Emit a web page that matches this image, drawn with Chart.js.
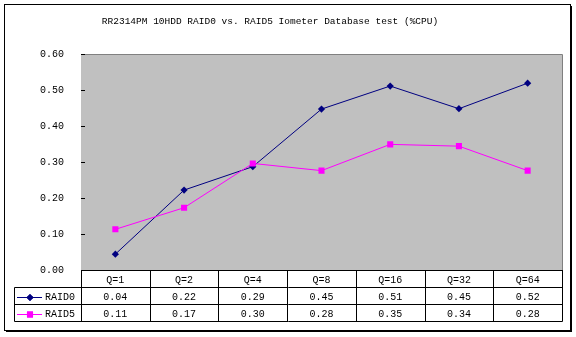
<!DOCTYPE html>
<html><head><meta charset="utf-8">
<script src="https://cdn.jsdelivr.net/npm/chart.js@4/dist/chart.umd.min.js"></script>
<style>html,body{margin:0;padding:0;background:#fff;}#wrap{width:576px;height:337px;position:relative}</style>
</head><body><div id="wrap"><canvas id="c" width="576" height="337"></canvas></div>
<script>
const chartTitle = 'RR2314PM 10HDD RAID0 vs. RAID5 Iometer Database test (%CPU)';
const categories = ['Q=1', 'Q=2', 'Q=4', 'Q=8', 'Q=16', 'Q=32', 'Q=64'];
const seriesNames = ['RAID0', 'RAID5'];
const raid0 = [0.044, 0.222, 0.287, 0.447, 0.511, 0.448, 0.519];
const raid5 = [0.113, 0.173, 0.296, 0.276, 0.349, 0.344, 0.276];
const yMin = 0, yMax = 0.6, yStep = 0.1;

const FONT = '"Liberation Mono", "DejaVu Sans Mono", monospace';
const colors = ['#000080', '#FF00FF'];
const styles = ['rectRot', 'rect'];
const radii = [3.6, 4.3];

const decor = {
  id: 'decor',
  beforeDatasetsDraw(chart) {
    const {ctx, chartArea: a} = chart;
    ctx.save();
    ctx.fillStyle = '#C0C0C0';
    ctx.fillRect(a.left, a.top, a.right - a.left, a.bottom - a.top);
    ctx.strokeStyle = '#808080';
    ctx.lineWidth = 1;
    ctx.beginPath();
    ctx.moveTo(a.left, a.top + 0.5); ctx.lineTo(a.right + 0.5, a.top + 0.5);
    ctx.lineTo(a.right + 0.5, a.bottom);
    ctx.stroke();
    const ys = chart.scales.y;
    ctx.strokeStyle = '#000';
    ctx.beginPath();
    ys.ticks.forEach(t => {
      const py = Math.round(ys.getPixelForValue(t.value)) + 0.5;
      ctx.moveTo(a.left, py); ctx.lineTo(a.left + 4, py);
    });
    ctx.stroke();
    ctx.restore();
  },
  afterDraw(chart) {
    const {ctx, chartArea: a} = chart;
    const xs = chart.scales.x;
    ctx.save();
    ctx.fillStyle = '#000';
    ctx.font = '9.5px ' + FONT;
    ctx.textAlign = 'center';
    ctx.textBaseline = 'middle';
    ctx.fillText(chartTitle, 270, 21);
    ctx.font = '10px ' + FONT;

    const colW = xs.getPixelForValue(1) - xs.getPixelForValue(0);
    const rowTops = [a.bottom, 288, 305, 322];
    const tblLeft = 14.5;
    const L = Math.round(a.left) + 0.5, R = Math.round(a.right) + 0.5;
    ctx.strokeStyle = '#000';
    ctx.lineWidth = 1;
    ctx.beginPath();
    ctx.moveTo(L, a.bottom + 0.5); ctx.lineTo(R, a.bottom + 0.5);
    for (let r = 1; r < rowTops.length; r++) {
      const y = rowTops[r] - 0.5;
      ctx.moveTo(tblLeft, y); ctx.lineTo(R, y);
    }
    ctx.moveTo(tblLeft, rowTops[1] - 0.5); ctx.lineTo(tblLeft, rowTops[3] - 0.5);
    for (let i = 0; i <= categories.length; i++) {
      const x = Math.round(xs.getPixelForValue(0) - colW / 2 + i * colW) + 0.5;
      ctx.moveTo(x, a.bottom); ctx.lineTo(x, rowTops[3] - 0.5);
    }
    ctx.stroke();

    ctx.fillStyle = '#000';
    ctx.textAlign = 'center';
    categories.forEach((c, i) => {
      ctx.fillText(c, xs.getPixelForValue(i), (rowTops[0] + rowTops[1]) / 2 + 1);
    });
    chart.data.datasets.forEach((ds, d) => {
      const cy = (rowTops[d + 1] + rowTops[d + 2]) / 2;
      ds.data.forEach((v, i) => {
        ctx.fillStyle = '#000';
        ctx.textAlign = 'center';
        ctx.fillText(v.toFixed(2), xs.getPixelForValue(i), cy + 1);
      });
      ctx.strokeStyle = colors[d];
      ctx.beginPath();
      ctx.moveTo(17, Math.round(cy) + 0.5); ctx.lineTo(42, Math.round(cy) + 0.5);
      ctx.stroke();
      ctx.fillStyle = colors[d];
      Chart.helpers.drawPoint(ctx, {pointStyle: styles[d], radius: radii[d], rotation: 0, borderWidth: 0}, 30, Math.round(cy) + 0.5);
      ctx.fill();
      ctx.fillStyle = '#000';
      ctx.textAlign = 'left';
      ctx.fillText(ds.label, 45, cy + 1);
    });

    ctx.strokeStyle = '#000';
    ctx.strokeRect(4.5, 4.5, 566, 326);
    ctx.beginPath();
    ctx.moveTo(571.5, 6); ctx.lineTo(571.5, 332);
    ctx.moveTo(6, 331.5); ctx.lineTo(572, 331.5);
    ctx.stroke();
    ctx.restore();
  }
};

new Chart(document.getElementById('c'), {
  type: 'line',
  data: {
    labels: categories,
    datasets: [
      {label: seriesNames[0], data: raid0, borderColor: colors[0], backgroundColor: colors[0],
       borderWidth: 1, pointStyle: styles[0], pointRadius: radii[0], pointBorderWidth: 0, tension: 0, order: 2},
      {label: seriesNames[1], data: raid5, borderColor: colors[1], backgroundColor: colors[1],
       borderWidth: 1, pointStyle: styles[1], pointRadius: radii[1], pointBorderWidth: 0, tension: 0, order: 1}
    ]
  },
  options: {
    responsive: false,
    animation: false,
    devicePixelRatio: 1,
    layout: {padding: {left: 0, top: 54, right: 14, bottom: 67}},
    plugins: {legend: {display: false}, title: {display: false}, tooltip: {enabled: false}},
    scales: {
      x: {type: 'category', display: false, offset: true},
      y: {
        min: yMin, max: yMax,
        ticks: {stepSize: yStep, callback: v => Number(v).toFixed(2), color: '#000',
                font: {family: FONT, size: 10}, padding: 17},
        grid: {display: false, drawTicks: false},
        border: {display: true, color: '#000', width: 1},
        afterFit(s) { s.width = 81; }
      }
    }
  },
  plugins: [decor]
});
</script></body></html>
